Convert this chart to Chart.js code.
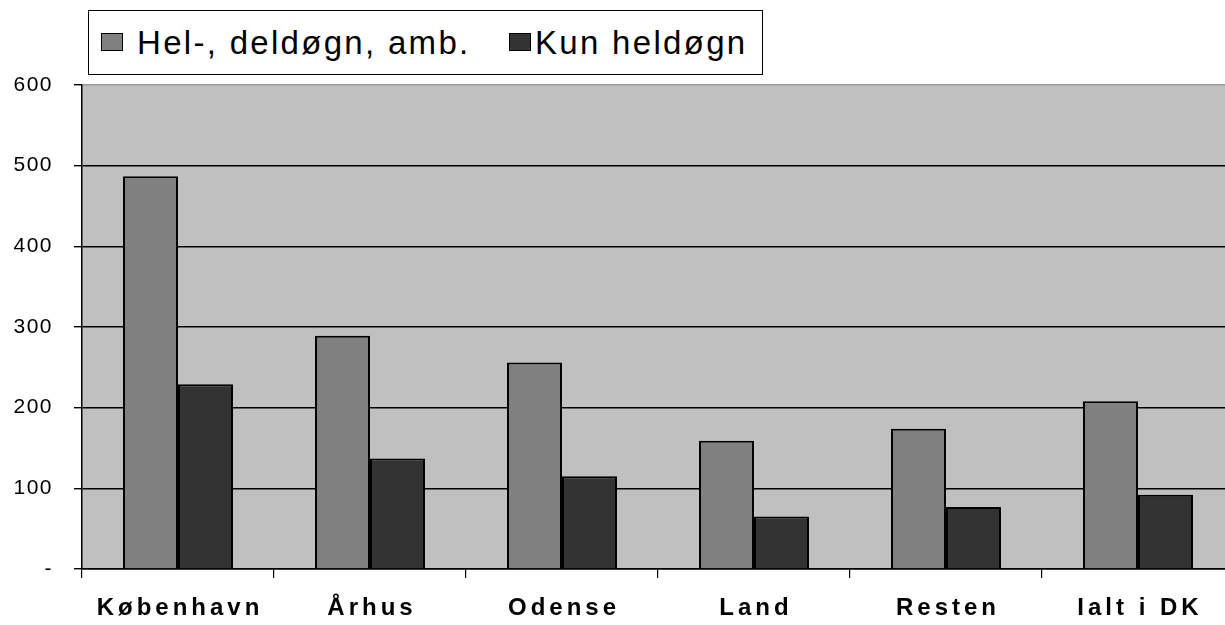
<!DOCTYPE html>
<html lang="da">
<head>
  <meta charset="UTF-8">
  <title>Hel-, deldøgn, amb. / Kun heldøgn</title>
  <script src="https://cdn.jsdelivr.net/npm/chart.js"></script>
  <style>
    html, body {
      margin: 0;
      padding: 0;
      background: #fff;
      overflow: hidden;
    }
    #wrap {
      position: relative;
      width: 1236px;
      height: 625px;
    }
    #legend {
      position: absolute;
      left: 88px;
      top: 10px;
      width: 675px;
      height: 65px;
      box-sizing: border-box;
      border: 1.5px solid #000;
      background: #fff;
      font-family: "Liberation Sans", Arial, sans-serif;
      font-size: 33px;
      letter-spacing: 2.3px;
      color: #000;
    }
    #legend .sw {
      position: absolute;
      top: 22px;
      width: 22px;
      height: 18px;
      box-sizing: border-box;
      border: 1.5px solid #000;
    }
    #legend .txt {
      position: absolute;
      top: 13px;
      line-height: 38px;
      white-space: nowrap;
    }
  </style>
</head>
<body>
<div id="wrap">
  <canvas id="chart" width="1236" height="625"></canvas>
  <div id="legend"></div>
</div>

<script>
  const categories = ['København', 'Århus', 'Odense', 'Land', 'Resten', 'Ialt i DK'];
  const seriesNames = ['Hel-, deldøgn, amb.', 'Kun heldøgn'];
  const helDeldognAmb = [487, 289, 256, 159, 174, 208];
  const kunHeldogn = [229, 137, 115, 65, 77, 92];
  const seriesColors = ['#808080', '#333333'];
  const yMin = 0, yMax = 600, yStep = 100;

  const fontFamily = '"Liberation Sans", Arial, sans-serif';

  // grey plot area
  const plotBg = {
    id: 'plotBg',
    beforeDraw(chart) {
      const { ctx, chartArea: a } = chart;
      ctx.save();
      ctx.fillStyle = '#c0c0c0';
      ctx.fillRect(a.left, a.top, a.right - a.left, a.bottom - a.top);
      ctx.restore();
    }
  };

  // the original labels are drawn letter-spaced
  const spacing = {
    id: 'spacing',
    afterLayout(chart) {
      [['x', '4px'], ['y', '1.5px']].forEach(([id, sp]) => {
        const s = chart.scales[id];
        if (!s || s._spaced) return;
        const orig = s.drawLabels;
        s.drawLabels = function (area) {
          this.ctx.save();
          this.ctx.letterSpacing = sp;
          orig.call(this, area);
          this.ctx.restore();
        };
        s._spaced = true;
      });
    }
  };

  const chart = new Chart(document.getElementById('chart').getContext('2d'), {
    type: 'bar',
    data: {
      labels: categories,
      datasets: [
        { label: seriesNames[0], data: helDeldognAmb, backgroundColor: seriesColors[0] },
        { label: seriesNames[1], data: kunHeldogn, backgroundColor: seriesColors[1] }
      ]
    },
    options: {
      responsive: false,
      animation: false,
      layout: { padding: { top: 85, right: 2, left: 0, bottom: 0 } },
      datasets: {
        bar: {
          borderColor: '#000',
          borderWidth: 2,
          categoryPercentage: 0.573,
          barPercentage: 1.0
        }
      },
      plugins: {
        legend: { display: false },
        tooltip: { enabled: false }
      },
      scales: {
        x: {
          ticks: {
            color: '#000',
            font: { family: fontFamily, size: 24, weight: 'bold' },
            padding: 16,
            labelOffset: 2,
            maxRotation: 0,
            autoSkip: false
          },
          grid: { offset: true, drawOnChartArea: false, tickLength: 9, color: '#000', lineWidth: 1.2 },
          border: { color: '#000', width: 1.5 },
          afterFit(s) { s.height = 56; }
        },
        y: {
          min: yMin,
          max: yMax,
          ticks: {
            stepSize: yStep,
            color: '#000',
            font: { family: fontFamily, size: 21 },
            padding: 21,
            callback: v => v === 0 ? '-' : v
          },
          grid: {
            color: c => (c.tick && c.tick.value === yMax) ? '#9a9a9a' : '#000',
            tickColor: '#000',
            lineWidth: 1.4,
            tickLength: 8
          },
          border: { color: '#000', width: 1.5 },
          afterFit(s) { s.width = 82; }
        }
      }
    },
    plugins: [plotBg, spacing]
  });

  // legend box built from the datasets
  const legend = document.getElementById('legend');
  const swatchX = [12, 420];
  const textX = [48, 446];
  chart.data.datasets.forEach((ds, i) => {
    const sw = document.createElement('div');
    sw.className = 'sw';
    sw.style.left = swatchX[i] + 'px';
    sw.style.background = ds.backgroundColor;
    legend.appendChild(sw);
    const t = document.createElement('div');
    t.className = 'txt';
    t.style.left = textX[i] + 'px';
    t.textContent = ds.label;
    legend.appendChild(t);
  });
</script>
</body>
</html>
